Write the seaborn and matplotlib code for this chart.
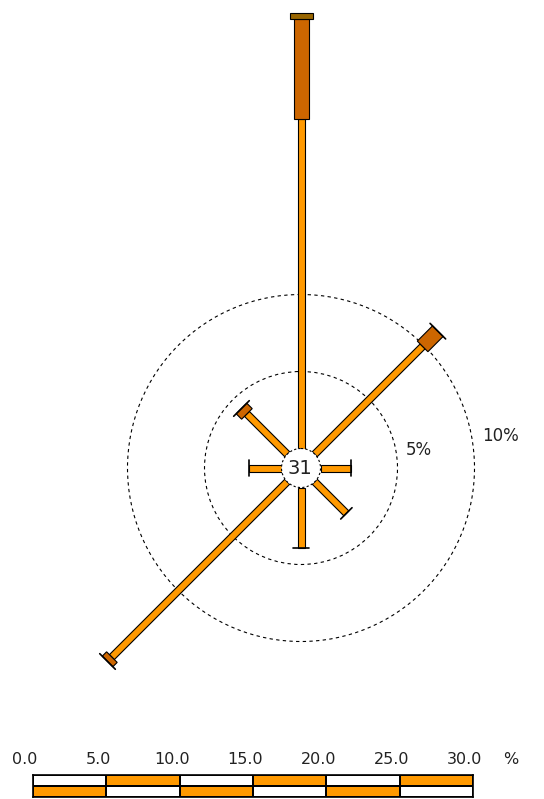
import numpy as np
import matplotlib
matplotlib.use("Agg")
import matplotlib.pyplot as plt
from matplotlib.patches import Polygon, Circle
from matplotlib.colors import ListedColormap
import seaborn as sns

# wind directions (azimuth, degrees clockwise from north)
directions = ["N", "NE", "E", "SE", "S", "SW", "W", "NW"]
azimuths = [0, 45, 90, 135, 180, 225, 270, 315]

# frequency (%) per speed class
speed_low = [21.4, 9.9, 2.0, 2.9, 3.9, 16.1, 2.1, 3.7]
speed_mid = [6.5, 1.4, 0.0, 0.0, 0.0, 0.4, 0.0, 0.5]
speed_high = [0.4, 0.0, 0.0, 0.0, 0.0, 0.0, 0.0, 0.0]

calms = "31"
rings = [5, 10]
scale_ticks = [0.0, 5.0, 10.0, 15.0, 20.0, 25.0, 30.0]
scale_pattern = [[0, 1, 0, 1, 0, 1],
                 [1, 0, 1, 0, 1, 0]]

class_colors = ["#FF9900", "#CC6600", "#996600"]
class_widths = [7, 15, 23]
tick_lens = [16, 22, 0]

sns.set_style("white")
plt.rcParams['font.family'] = ['DejaVu Sans']

W, H = 544, 799
fig = plt.figure(figsize=(W / 100, H / 100), dpi=100)
ax = fig.add_axes([0, 0, 1, 1])
ax.set_xlim(0, W)
ax.set_ylim(H, 0)
ax.axis("off")

cx, cy = 301, 468
calm_r = 19.5
px_per_pct = 15.4


def radius(p):
    return calm_r + p * px_per_pct


# reference rings
for ring in rings:
    r = radius(ring)
    ax.add_patch(Circle((cx, cy), r, fill=False, ec="black", lw=0.8,
                        ls=(0, (3, 3)), zorder=1))
    a = np.radians(80)
    ax.text(cx + (r + 10) * np.sin(a), cy - (r + 10) * np.cos(a), f"{ring}%",
            fontsize=12, ha="left", va="center", color="#222222")

# bars
classes = [speed_low, speed_mid, speed_high]
for i, az in enumerate(azimuths):
    a = np.radians(az)
    u = np.array([np.sin(a), -np.cos(a)])
    p = np.array([np.cos(a), np.sin(a)])
    cum = 0.0
    top = 0
    for k, vals in enumerate(classes):
        v = vals[i]
        if v <= 0:
            continue
        r0, r1 = radius(cum), radius(cum + v)
        w = class_widths[k] / 2
        c = np.array([cx, cy])
        pts = [c + u * r0 + p * w, c + u * r1 + p * w,
               c + u * r1 - p * w, c + u * r0 - p * w]
        ax.add_patch(Polygon(pts, closed=True, fc=class_colors[k], ec="black",
                             lw=0.8, zorder=2 + k))
        cum += v
        top = k
    L = tick_lens[top] / 2
    if L > 0:
        end = np.array([cx, cy]) + u * radius(cum)
        ax.plot([end[0] - p[0] * L, end[0] + p[0] * L],
                [end[1] - p[1] * L, end[1] + p[1] * L],
                color="black", lw=1.2, zorder=6)

# calms circle
ax.add_patch(Circle((cx, cy), calm_r, fc="white", ec="black", lw=0.8,
                    ls=(0, (2, 2)), zorder=7))
ax.text(cx - 1, cy + 1, calms, fontsize=14, ha="center", va="center",
        color="#222222", zorder=8)

# scale bar
sx0, sx1, sy0, sy1 = 33, 473, 775, 797
sax = fig.add_axes([sx0 / W, 1 - sy1 / H, (sx1 - sx0) / W, (sy1 - sy0) / H])
sns.heatmap(np.array(scale_pattern), ax=sax, cmap=ListedColormap(["white", "#FF9900"]),
            cbar=False, linewidths=1.2, linecolor="black", xticklabels=False,
            yticklabels=False)
for s in sax.spines.values():
    s.set_visible(True)
    s.set_color("black")
    s.set_linewidth(1.2)

spp = (sx1 - sx0) / scale_ticks[-1]
for t in scale_ticks:
    ax.text(sx0 + t * spp - 8, 760, f"{t:.1f}", fontsize=11.5, ha="center",
            va="center", color="#222222")
ax.text(511, 760, "%", fontsize=11.5, ha="center", va="center", color="#222222")

fig.savefig("out.png", dpi=100)
